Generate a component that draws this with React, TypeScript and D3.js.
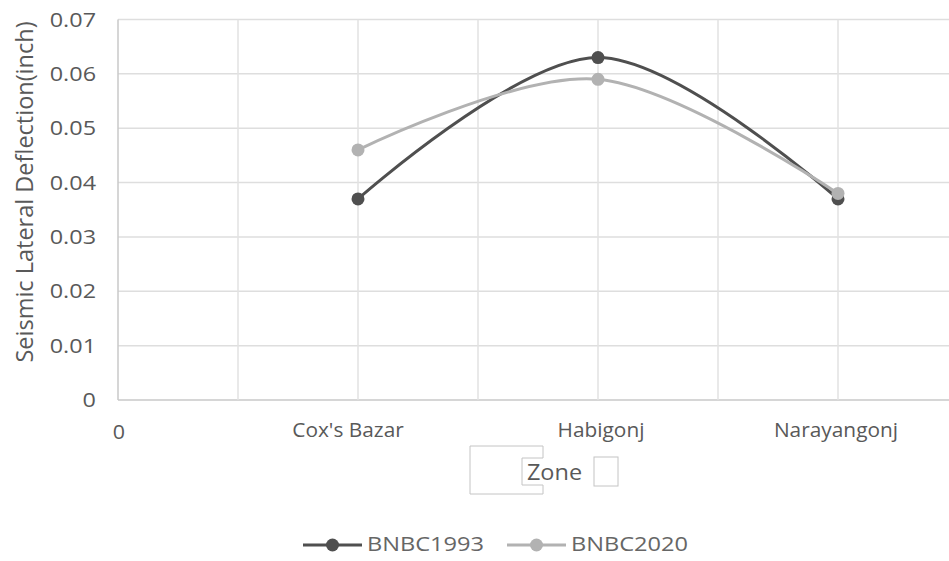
import React from "react";
import * as d3 from "d3";

// Zones along the x axis and their positions on the value axis
const zones = ["Cox's Bazar", "Habigonj", "Narayangonj"];
const zonePositions = [1, 2, 3];

// Seismic lateral deflection (inch) per zone
const bnbc1993 = [0.037, 0.063, 0.037];
const bnbc2020 = [0.046, 0.059, 0.038];

const yTicks = [0, 0.01, 0.02, 0.03, 0.04, 0.05, 0.06, 0.07];
const xGridTicks = [0.5, 1, 1.5, 2, 2.5, 3, 3.5];

const W = 949;
const H = 561;
const FONT = "'Open Sans', 'Noto Sans', sans-serif";
const TEXT = "#595959";

const series = [
  { name: "BNBC1993", values: bnbc1993, color: "#4f4f4f" },
  { name: "BNBC2020", values: bnbc2020, color: "#b2b2b2" },
];

// Text that is drawn slightly widened, as the chart's labels are
function Label(props: {
  x: number;
  y: number;
  sx: number;
  size: number;
  anchor?: "start" | "middle" | "end";
  fill?: string;
  children: React.ReactNode;
}) {
  const { x, y, sx, size, anchor = "middle", fill = TEXT, children } = props;
  return (
    <g transform={`translate(${x},${y}) scale(${sx},1)`}>
      <text textAnchor={anchor} fontFamily={FONT} fontSize={size} fill={fill}>
        {children}
      </text>
    </g>
  );
}

export default function App() {
  const x = d3.scaleLinear().domain([0, 3.4625]).range([118, 949]);
  const y = d3.scaleLinear().domain([0, 0.07]).range([400, 19.5]);

  const line = d3
    .line<[number, number]>()
    .x((d) => x(d[0]))
    .y((d) => y(d[1]))
    .curve(d3.curveCatmullRom.alpha(0));

  const yFmt = (v: number) => (v === 0 ? "0" : d3.format(".2f")(v));
  const labelDx = [-10, 3, -2];

  return (
    <div style={{ position: "absolute", left: 0, top: 0 }}>
      <svg width={W} height={H} style={{ display: "block", background: "#fff" }}>
        {/* horizontal gridlines */}
        {yTicks.map((t) => (
          <line
            key={"h" + t}
            x1={x(0)}
            x2={W}
            y1={y(t)}
            y2={y(t)}
            stroke={t === 0 ? "#c8c8c8" : "#dedede"}
            strokeWidth={1.5}
          />
        ))}
        {/* vertical gridlines */}
        {xGridTicks.map((t) => (
          <line
            key={"v" + t}
            x1={x(t)}
            x2={x(t)}
            y1={y(0.07)}
            y2={y(0)}
            stroke="#e2e2e2"
            strokeWidth={1.5}
          />
        ))}
        <line x1={x(0)} x2={x(0)} y1={y(0.07)} y2={y(0)} stroke="#c8c8c8" strokeWidth={1.5} />

        {/* y tick labels */}
        {yTicks.map((t) => (
          <Label key={"yl" + t} x={96} y={y(t) + 7} sx={1.2} size={19.5} anchor="end">
            {yFmt(t)}
          </Label>
        ))}

        {/* y axis title */}
        <text
          transform={`translate(33,192) rotate(-90)`}
          textAnchor="middle"
          fontFamily={FONT}
          fontSize={23.5}
          fill={TEXT}
        >
          Seismic Lateral Deflection(inch)
        </text>

        {/* x labels */}
        <Label x={x(0) + 1} y={439} sx={1.1} size={19.5}>
          0
        </Label>
        {zones.map((z, i) => (
          <Label key={z} x={x(zonePositions[i]) + labelDx[i]} y={437} sx={1.07} size={19.5}>
            {z}
          </Label>
        ))}

        {/* x axis title with its frames */}
        <path
          d="M470,446 H543 V458 H522 V485 H543 V494 H470 Z"
          fill="none"
          stroke="#c4c4c4"
          strokeWidth={1}
        />
        <rect x={594} y={457} width={24} height={29} fill="none" stroke="#c4c4c4" strokeWidth={1} />
        <Label x={554.5} y={480} sx={1.12} size={21}>
          Zone
        </Label>

        {/* series lines and markers */}
        {series.map((s) => {
          const pts: [number, number][] = s.values.map((v, i) => [zonePositions[i], v]);
          return (
            <g key={s.name}>
              <path d={line(pts) || ""} fill="none" stroke={s.color} strokeWidth={3} />
              {pts.map((p, i) => (
                <circle key={i} cx={x(p[0])} cy={y(p[1])} r={6.5} fill={s.color} />
              ))}
            </g>
          );
        })}

        {/* legend */}
        {series.map((s, i) => {
          const lx = i === 0 ? 303 : 507;
          return (
            <g key={"lg" + s.name}>
              <line x1={lx} x2={lx + 59} y1={545} y2={545} stroke={s.color} strokeWidth={3} />
              <circle cx={lx + 29.5} cy={545} r={6.5} fill={s.color} />
              <Label x={lx + 64} y={551} sx={1.18} size={20} anchor="start" fill="#666666">
                {s.name}
              </Label>
            </g>
          );
        })}
      </svg>
    </div>
  );
}
